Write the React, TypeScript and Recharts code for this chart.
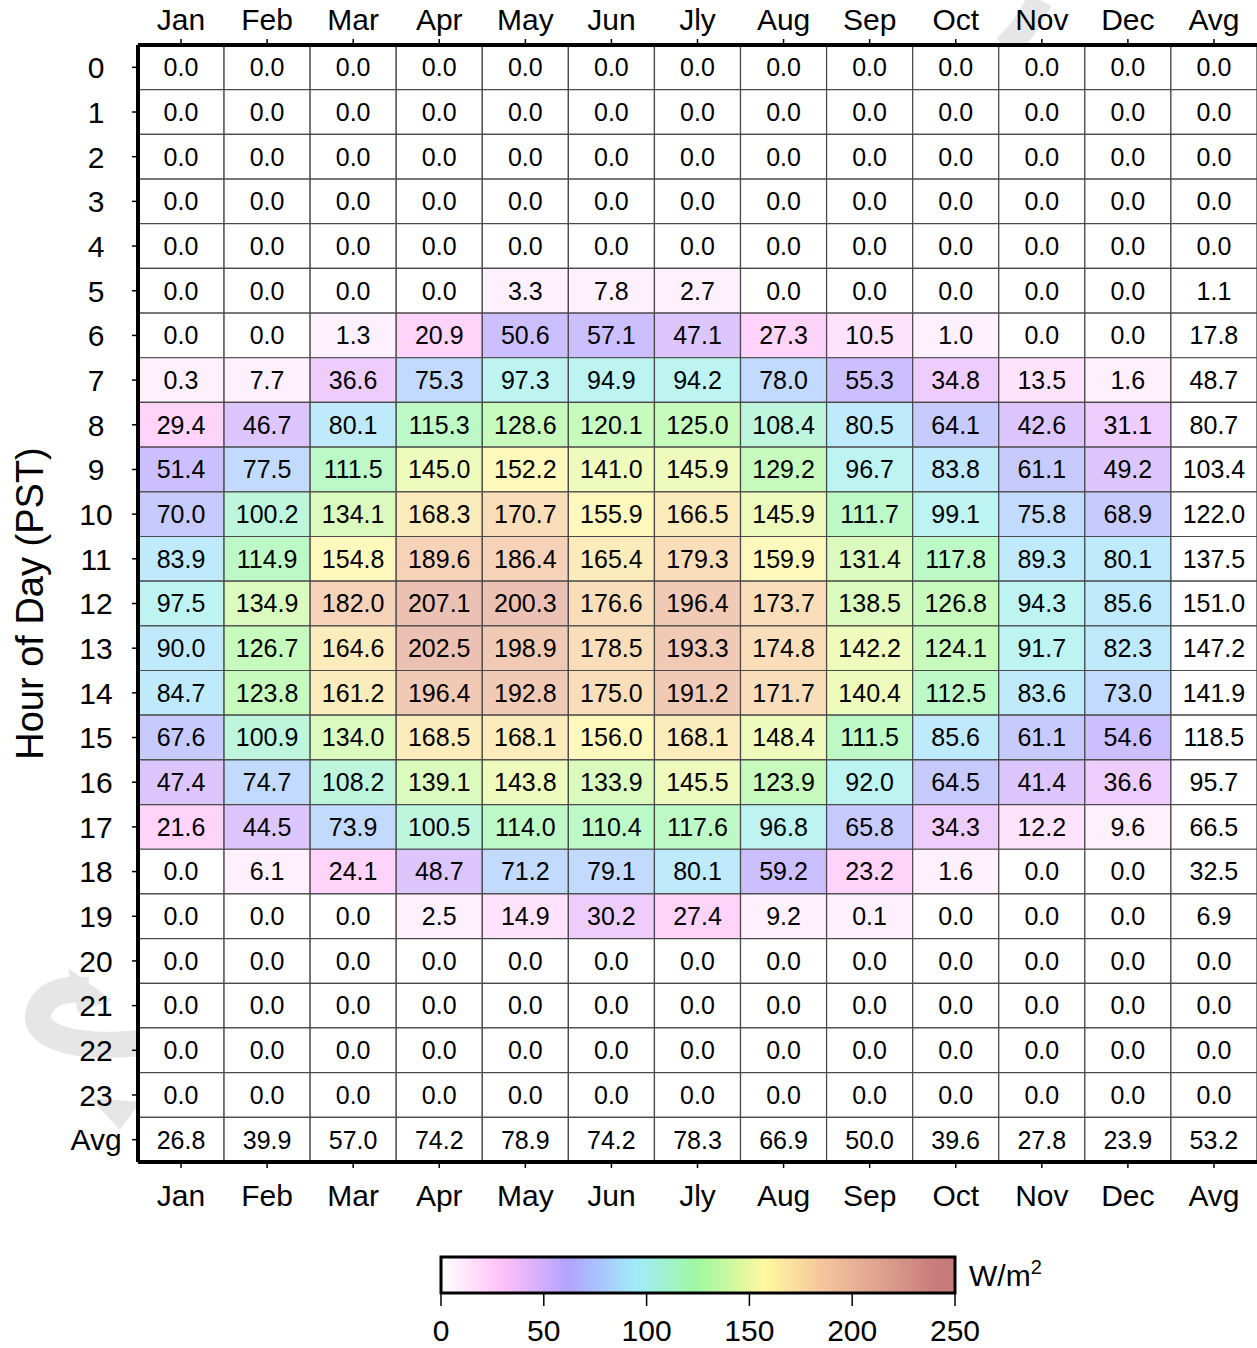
import { BarChart, Bar, XAxis, YAxis, Cell, LabelList } from 'recharts';

const months = ['Jan', 'Feb', 'Mar', 'Apr', 'May', 'Jun', 'Jly', 'Aug', 'Sep', 'Oct', 'Nov', 'Dec', 'Avg'];
const hourLabels = [
  '0', '1', '2', '3', '4', '5', '6', '7', '8', '9', '10', '11',
  '12', '13', '14', '15', '16', '17', '18', '19', '20', '21', '22', '23', 'Avg',
];

// one column per month, hours 0..23 then the daily average
const jan = [0, 0, 0, 0, 0, 0, 0, 0.3, 29.4, 51.4, 70.0, 83.9, 97.5, 90.0, 84.7, 67.6, 47.4, 21.6, 0, 0, 0, 0, 0, 0, 26.8];
const feb = [0, 0, 0, 0, 0, 0, 0, 7.7, 46.7, 77.5, 100.2, 114.9, 134.9, 126.7, 123.8, 100.9, 74.7, 44.5, 6.1, 0, 0, 0, 0, 0, 39.9];
const mar = [0, 0, 0, 0, 0, 0, 1.3, 36.6, 80.1, 111.5, 134.1, 154.8, 182.0, 164.6, 161.2, 134.0, 108.2, 73.9, 24.1, 0, 0, 0, 0, 0, 57.0];
const apr = [0, 0, 0, 0, 0, 0, 20.9, 75.3, 115.3, 145.0, 168.3, 189.6, 207.1, 202.5, 196.4, 168.5, 139.1, 100.5, 48.7, 2.5, 0, 0, 0, 0, 74.2];
const may = [0, 0, 0, 0, 0, 3.3, 50.6, 97.3, 128.6, 152.2, 170.7, 186.4, 200.3, 198.9, 192.8, 168.1, 143.8, 114.0, 71.2, 14.9, 0, 0, 0, 0, 78.9];
const jun = [0, 0, 0, 0, 0, 7.8, 57.1, 94.9, 120.1, 141.0, 155.9, 165.4, 176.6, 178.5, 175.0, 156.0, 133.9, 110.4, 79.1, 30.2, 0, 0, 0, 0, 74.2];
const jly = [0, 0, 0, 0, 0, 2.7, 47.1, 94.2, 125.0, 145.9, 166.5, 179.3, 196.4, 193.3, 191.2, 168.1, 145.5, 117.6, 80.1, 27.4, 0, 0, 0, 0, 78.3];
const aug = [0, 0, 0, 0, 0, 0, 27.3, 78.0, 108.4, 129.2, 145.9, 159.9, 173.7, 174.8, 171.7, 148.4, 123.9, 96.8, 59.2, 9.2, 0, 0, 0, 0, 66.9];
const sep = [0, 0, 0, 0, 0, 0, 10.5, 55.3, 80.5, 96.7, 111.7, 131.4, 138.5, 142.2, 140.4, 111.5, 92.0, 65.8, 23.2, 0.1, 0, 0, 0, 0, 50.0];
const oct = [0, 0, 0, 0, 0, 0, 1.0, 34.8, 64.1, 83.8, 99.1, 117.8, 126.8, 124.1, 112.5, 85.6, 64.5, 34.3, 1.6, 0, 0, 0, 0, 0, 39.6];
const nov = [0, 0, 0, 0, 0, 0, 0, 13.5, 42.6, 61.1, 75.8, 89.3, 94.3, 91.7, 83.6, 61.1, 41.4, 12.2, 0, 0, 0, 0, 0, 0, 27.8];
const dec = [0, 0, 0, 0, 0, 0, 0, 1.6, 31.1, 49.2, 68.9, 80.1, 85.6, 82.3, 73.0, 54.6, 36.6, 9.6, 0, 0, 0, 0, 0, 0, 23.9];
const avg = [0, 0, 0, 0, 0, 1.1, 17.8, 48.7, 80.7, 103.4, 122.0, 137.5, 151.0, 147.2, 141.9, 118.5, 95.7, 66.5, 32.5, 6.9, 0, 0, 0, 0, 53.2];

const columns = [jan, feb, mar, apr, may, jun, jly, aug, sep, oct, nov, dec, avg];

const colorbarTicks = [0, 50, 100, 150, 200, 250];

// colour scale (W/m2 -> colour), same one used by the colour bar
const colorStops: [number, string][] = [
  [0, '#ffffff'],
  [30, '#ffc0f8'],
  [62, '#b2a2ff'],
  [95, '#a0ecfa'],
  [125, '#a0f8a0'],
  [158, '#fff8a0'],
  [186, '#f5c49c'],
  [215, '#dca08e'],
  [240, '#c87c7c'],
  [250, '#c87a7a'],
];

const toRgb = (h: string) => [1, 3, 5].map((i) => parseInt(h.slice(i, i + 2), 16));

function scaleColor(v: number, alpha = 0.7) {
  let rgb = toRgb(colorStops[colorStops.length - 1][1]);
  for (let i = 0; i < colorStops.length - 1; i++) {
    const [v0, c0] = colorStops[i];
    const [v1, c1] = colorStops[i + 1];
    if (v <= v1) {
      const t = Math.max(0, (v - v0) / (v1 - v0));
      const a = toRgb(c0);
      const b = toRgb(c1);
      rgb = a.map((x, k) => x + (b[k] - x) * t);
      break;
    }
  }
  const mixed = rgb.map((x) => Math.round(255 + (x - 255) * alpha));
  return `rgb(${mixed.join(',')})`;
}

// cells are shaded by 10 W/m2 class
const cellColor = (v: number) => scaleColor(Math.ceil(v / 10) * 10);

const tableData = months.map((m, c) => {
  const row: Record<string, string | number> = { month: m };
  columns[c].forEach((v, h) => {
    row[`s${h}`] = 1;
    row[`v${h}`] = v;
  });
  return row;
});

const yTicks = hourLabels.map((_, i) => i + 0.5);

function HourTick(props: any) {
  const { y, payload } = props;
  return (
    <text x={96} y={y} dy="0.36em" textAnchor="middle" fontSize={30} fill="#000">
      {hourLabels[Math.floor(payload.value)]}
    </text>
  );
}

function YTitle(props: any) {
  const vb = props.viewBox || { y: 45, height: 1117 };
  const cy = vb.y + vb.height / 2;
  return (
    <text x={29} y={cy} transform={`rotate(-90, 29, ${cy})`} dy="0.36em" textAnchor="middle" fontSize={38} fill="#000">
      Hour of Day (PST)
    </text>
  );
}

const FONT = '"Liberation Sans", Arial, Helvetica, sans-serif';

function ColorBar() {
  const x0 = 441;
  const w = 514;
  const y0 = 1257;
  const h = 36;
  const pos = (v: number) => x0 + (v / 250) * w;
  return (
    <svg width={1257} height={1348} style={{ position: 'absolute', left: 0, top: 0, pointerEvents: 'none' }}>
      <defs>
        <linearGradient id="cbar" x1="0" x2="1" y1="0" y2="0">
          {colorStops.map(([v, c]) => (
            <stop key={v} offset={v / 250} stopColor={c} />
          ))}
        </linearGradient>
      </defs>
      <rect x={x0} y={y0} width={w} height={h} fill="url(#cbar)" stroke="#000" strokeWidth={3} />
      {colorbarTicks.map((v) => (
        <g key={v}>
          <line x1={pos(v)} x2={pos(v)} y1={y0 + h} y2={y0 + h + 13} stroke="#000" strokeWidth={1.5} />
          <text x={pos(v)} y={1341} textAnchor="middle" fontSize={30} fontFamily={FONT}>
            {v}
          </text>
        </g>
      ))}
      <text x={969} y={1286} fontSize={30} fontFamily={FONT}>
        W/m<tspan fontSize={20} dy={-12}>2</tspan>
      </text>
    </svg>
  );
}

function Watermark() {
  return (
    <svg width={1257} height={1348} style={{ position: 'absolute', left: 0, top: 0 }}>
      <g fill="none" stroke="#e6e6e6" strokeWidth={26} strokeLinecap="butt">
        <path d="M 140 1043 C 70 1050, 28 1035, 40 1008 C 48 992, 65 988, 88 990" />
        <path d="M 1040 0 C 1030 20, 1020 35, 1005 48" />
      </g>
      <g fill="#e6e6e6">
        <polygon points="68,968 112,1000 78,1012" />
        <polygon points="90,1098 140,1102 120,1130" />
      </g>
    </svg>
  );
}

export default function App() {
  return (
    <div style={{ position: 'absolute', left: 0, top: 0, width: 1257, height: 1348, background: '#fff', fontFamily: FONT }}>
      <Watermark />
      <div style={{ position: 'absolute', left: 0, top: 0 }}>
        <BarChart
          width={1257}
          height={1348}
          data={tableData}
          margin={{ top: 0, right: 0, bottom: 126, left: 0 }}
          barCategoryGap={0}
          barGap={0}
        >
          <XAxis
            xAxisId="top"
            orientation="top"
            dataKey="month"
            height={45}
            interval={0}
            tickSize={6}
            tickMargin={9}
            axisLine={{ stroke: '#000', strokeWidth: 4 }}
            tickLine={{ stroke: '#000', strokeWidth: 1.5 }}
            tick={{ fontSize: 30, fill: '#000' }}
          />
          <XAxis
            xAxisId="bottom"
            dataKey="month"
            height={60}
            interval={0}
            tickSize={6}
            tickMargin={17}
            axisLine={{ stroke: '#000', strokeWidth: 4 }}
            tickLine={{ stroke: '#000', strokeWidth: 1.5 }}
            tick={{ fontSize: 30, fill: '#000' }}
          />
          <YAxis
            type="number"
            domain={[0, 25]}
            reversed
            ticks={yTicks}
            interval={0}
            width={138}
            tickSize={6}
            axisLine={{ stroke: '#000', strokeWidth: 4 }}
            tickLine={{ stroke: '#000', strokeWidth: 1.5 }}
            tick={<HourTick />}
            label={{ content: (p: any) => <YTitle {...p} /> }}
          />
          {hourLabels.map((_, h) => (
            <Bar key={h} dataKey={`s${h}`} stackId="cells" xAxisId="bottom" isAnimationActive={false}>
              {tableData.map((row, c) => {
                const plain = c === months.length - 1 || h === hourLabels.length - 1;
                return (
                  <Cell
                    key={c}
                    fill={plain ? '#ffffff' : cellColor(row[`v${h}`] as number)}
                    stroke="#4a4a4a"
                    strokeWidth={1.2}
                  />
                );
              })}
              <LabelList
                dataKey={`v${h}`}
                position="center"
                fontSize={25}
                fill="#000"
                formatter={(v: any) => Number(v).toFixed(1)}
              />
            </Bar>
          ))}
        </BarChart>
      </div>
      <ColorBar />
    </div>
  );
}
